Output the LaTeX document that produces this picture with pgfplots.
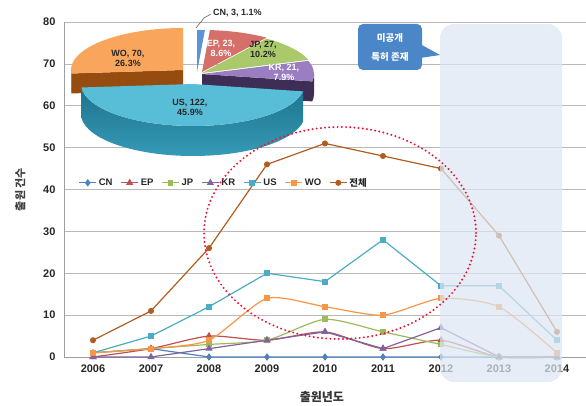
\documentclass[border=0pt]{standalone}
\usepackage{fontspec}
\setmainfont{Liberation Sans}
\newfontfamily\kr{Noto Sans CJK KR}
\usepackage{pgfplots}
\pgfplotsset{compat=1.18}
\usetikzlibrary{calc}
\definecolor{cCN}{RGB}{79,129,189}
\definecolor{cEP}{RGB}{192,80,77}
\definecolor{cJP}{RGB}{155,187,89}
\definecolor{cKR}{RGB}{128,100,162}
\definecolor{cUS}{RGB}{75,172,198}
\definecolor{cWO}{RGB}{247,150,70}
\definecolor{cTot}{RGB}{178,92,30}
\definecolor{pWOt}{RGB}{249,166,92}\definecolor{pWOs}{RGB}{150,75,15}
\definecolor{pCNt}{RGB}{90,150,215}\definecolor{pCNs}{RGB}{40,80,130}
\definecolor{pEPt}{RGB}{214,110,105}\definecolor{pEPs}{RGB}{140,50,47}
\definecolor{pJPt}{RGB}{170,201,106}\definecolor{pJPs}{RGB}{90,115,45}
\definecolor{pKRt}{RGB}{155,126,194}\definecolor{pKRs}{RGB}{62,45,85}
\definecolor{pUSt}{RGB}{88,190,215}\definecolor{pUSs}{RGB}{40,140,170}
\definecolor{pUSd}{RGB}{30,115,140}
\definecolor{boxblue}{RGB}{220,230,242}
\definecolor{callblue}{RGB}{74,134,200}
\definecolor{ellred}{RGB}{235,20,50}

% pie helpers
\def\RX{112}\def\RY{42}
\newcommand{\topface}[4]{% O, a1, a2, color
  \fill[#4] (#1) -- ($(#1)+(#2:\RX\space and \RY)$) arc[start angle=#2, end angle=#3, x radius=\RX, y radius=\RY] -- cycle;}
\newcommand{\sideface}[5]{% O, hi, lo, style, t
  \path[#4] ($(#1)+(#2:\RX\space and \RY)$) arc[start angle=#2, end angle=#3, x radius=\RX, y radius=\RY] -- ++(0,-#5) arc[start angle=#3, end angle=#2, x radius=\RX, y radius=\RY] -- cycle;}
\newcommand{\cutface}[4]{% O, a, color, t
  \fill[#3] (#1) -- ($(#1)+(#2:\RX\space and \RY)$) -- ++(0,-#4) -- ($(#1)+(0,-#4)$) -- cycle;}

\begin{document}
\begin{tikzpicture}
\begin{axis}[
  width=522pt, height=335pt, scale only axis,
  xmin=2005.5, xmax=2014.5, ymin=0, ymax=80,
  xtick={2006,...,2014}, ytick={0,10,...,80},
  x tick label style={/pgf/number format/1000 sep={}, yshift=-4pt},
  y tick label style={xshift=-5pt},
  /pgf/number format/assume math mode=true,
  ticklabel style={font=\fontsize{11}{13}\selectfont\bfseries, text=black!85},
  major tick length=0pt,
  ymajorgrids, grid style={gray!55, line width=0.6pt},
  axis x line*=bottom, axis y line*=left,
  axis line style={-, gray!75, line width=0.6pt},
  clip=false,
  xlabel={{\kr 출원년도}},
  xlabel style={at={(axis description cs:0.494,-0.119)}, anchor=center, font=\kr\fontsize{12}{14}\selectfont\bfseries, text=black!80},
  ylabel={{\kr 출원 건수}},
  ylabel style={at={(axis description cs:-0.084,0.5)}, anchor=center, font=\kr\fontsize{11}{13}\selectfont\bfseries, text=black!75},
  legend columns=7,
  legend style={at={(0.022,0.52)}, anchor=west, draw=none, fill=none,
    font=\fontsize{9.5}{11}\selectfont\bfseries, text=black!85,
    /tikz/every even column/.append style={column sep=6pt}},
  legend image code/.code={\draw[mark repeat=2,mark phase=2] plot coordinates {(0pt,0pt) (8.5pt,0pt) (17pt,0pt)};},
  every axis plot/.append style={line width=1.2pt},
]
\coordinate (LL) at (rel axis cs:0,0);
\addplot[color=cCN, mark=diamond*, mark size=2.8pt] coordinates {(2006,1)(2007,2)(2008,0)(2009,0)(2010,0)(2011,0)(2012,0)(2013,0)(2014,0)};
\addlegendentry{CN}
\addplot[color=cEP, smooth, tension=0.4, mark=triangle*, mark size=3pt] coordinates {(2006,0)(2007,2)(2008,5)(2009,4)(2010,6)(2011,2)(2012,4)(2013,0)(2014,0)};
\addlegendentry{EP}
\addplot[color=cJP, smooth, tension=0.4, mark=square*, mark size=2.3pt] coordinates {(2006,1)(2007,2)(2008,3)(2009,4)(2010,9)(2011,6)(2012,3)(2013,0)(2014,0)};
\addlegendentry{JP}
\addplot[color=cKR, mark=triangle*, mark size=3pt] coordinates {(2006,0)(2007,0)(2008,2)(2009,4)(2010,6)(2011,2)(2012,7)(2013,0)(2014,0)};
\addlegendentry{KR}
\addplot[color=cUS, mark=square*, mark size=2.4pt] coordinates {(2006,1)(2007,5)(2008,12)(2009,20)(2010,18)(2011,28)(2012,17)(2013,17)(2014,4)};
\addlegendentry{US}
\addplot[color=cWO, smooth, tension=0.4, mark=square*, mark size=2.4pt] coordinates {(2006,1)(2007,2)(2008,4)(2009,14)(2010,12)(2011,10)(2012,14)(2013,12)(2014,1)};
\addlegendentry{WO}
\addplot[color=cTot, mark=*, mark size=2.4pt] coordinates {(2006,4)(2007,11)(2008,26)(2009,46)(2010,51)(2011,48)(2012,45)(2013,29)(2014,6)};
\addlegendentry{{\kr 전체}}
\end{axis}

\begin{scope}[shift={($(LL)+(-64pt,-48pt)$)}, x=1pt, y=1pt]
  % pie angles from counts (CN 3, EP 23, JP 27, KR 21, US 122, WO 70; total 266)
  \pgfmathsetmacro\aA{90}
  \pgfmathsetmacro\aB{90-360/266*3}
  \pgfmathsetmacro\aC{\aB-360/266*23}
  \pgfmathsetmacro\aD{\aC-360/266*27}
  \pgfmathsetmacro\aE{\aD-360/266*21}
  \pgfmathsetmacro\aF{\aE-360/266*122}
  \pgfmathsetmacro\aG{\aF-360/266*70}
  \coordinate (OWO) at (183,335);
  \coordinate (OCN) at (197,333);
  \coordinate (OEP) at (202,333);
  \coordinate (OJP) at (202,332);
  \coordinate (OKR) at (202,331);
  \coordinate (OUS) at (193,321);
  % WO
  \sideface{OWO}{\aF}{-180}{fill=pWOs}{20}
  \cutface{OWO}{\aF}{pWOs}{20}
  \topface{OWO}{\aF}{\aG}{pWOt}
  % CN, EP, JP
  \topface{OCN}{\aA}{\aB}{pCNt}
  \topface{OEP}{\aB}{\aC}{pEPt}
  \topface{OJP}{\aC}{\aD}{pJPt}
  % KR
  \sideface{OKR}{0}{\aE}{fill=pKRs}{20}
  \cutface{OKR}{\aE}{pKRs}{20}
  \topface{OKR}{\aD}{\aE}{pKRt}
  % US
  \sideface{OUS}{\aE}{\aF}{top color=pUSd, bottom color=pUSs!70!pUSt}{30}
  \topface{OUS}{\aE}{\aF}{pUSt}
  % pie labels
  \begin{scope}[every node/.style={font=\fontsize{9}{10}\selectfont\bfseries, align=center, inner sep=0pt}]
    \node[text=black!85] at (128,347) {WO, 70,\\26.3\%};
    \node[text=white] at (221,357) {EP, 23,\\8.6\%};
    \node[text=black!85] at (263,356) {JP, 27,\\10.2\%};
    \node[text=white] at (284,333) {KR, 21,\\7.9\%};
    \node[text=black!85] at (190,298) {US, 122,\\45.9\%};
    \node[text=black!85, anchor=west] at (213,392) {CN, 3, 1.1\%};
  \end{scope}
  \draw[black!70, line width=0.5pt] (196,377) -- (204,387) -- (211,391);
  % unpublished region
  \fill[boxblue, fill opacity=0.72, rounded corners=14pt] (440,23) rectangle (562,381);
  % dotted ellipse
  \draw[ellred, line width=2.2pt, line cap=round, dash pattern=on 0pt off 4.2pt] (340,172) ellipse [x radius=136, y radius=106];
  % callout
  \fill[callblue, rounded corners=5pt] (358,335) rectangle (422,381);
  \fill[callblue] (420,361) -- (440,350) -- (420,347) -- cycle;
  \node[text=white, font=\kr\fontsize{9.5}{11}\selectfont\bfseries] at (390,367) {미공개};
  \node[text=white, font=\kr\fontsize{9.5}{11}\selectfont\bfseries] at (390,348) {특허 존재};
  \pgfresetboundingbox
  \path (0,0) rectangle (586,405);
\end{scope}
\end{tikzpicture}
\end{document}
